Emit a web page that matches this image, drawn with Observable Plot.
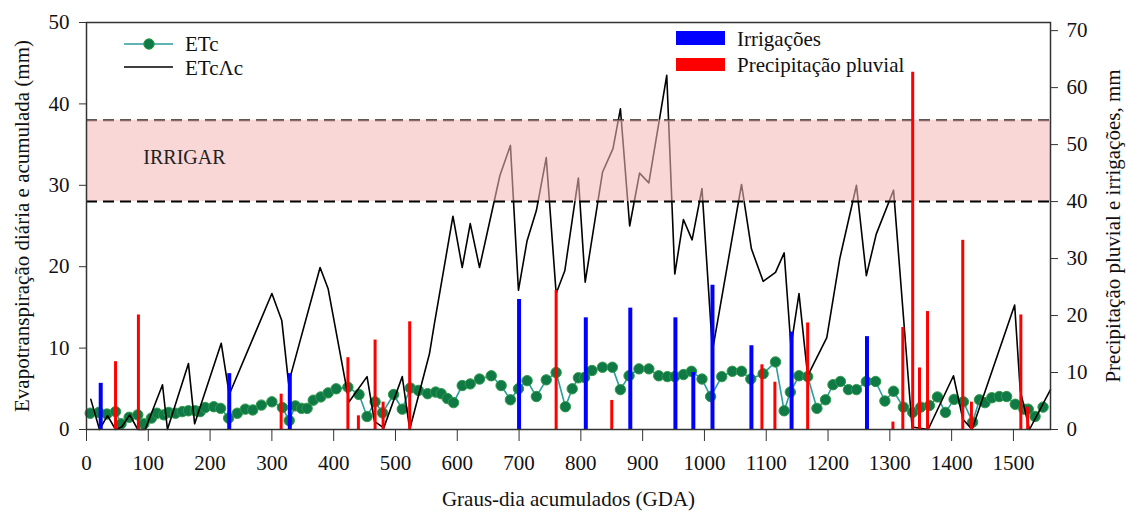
<!DOCTYPE html>
<html>
<head>
<meta charset="utf-8">
<script src="https://cdn.jsdelivr.net/npm/d3@7"></script>
<script src="https://cdn.jsdelivr.net/npm/@observablehq/plot@0.6"></script>
<style>
  html, body { margin: 0; padding: 0; background: #fff; }
  #chart { width: 1126px; height: 516px; }
  #chart svg, #chart svg text { font-family: "Liberation Serif", "Times New Roman", serif !important; }
</style>
</head>
<body>
<div id="chart"></div>
<script>
// ---- Data ----
const etcGDA = [6,20,33,47,56,69,83,93,105,114,125,133,144,155,165,176,184,192,206,217,230,244,257,269,283,300,317,328,338,348,357,367,379,391,404,423,441,454,467,479,497,511,524,537,552,565,574,584,594,608,621,636,655,671,686,699,713,728,744,760,775,786,796,806,818,835,851,864,878,894,910,926,940,952,966,979,996,1010,1028,1045,1060,1075,1095,1115,1129,1139,1153,1167,1182,1196,1208,1220,1233,1246,1262,1277,1292,1306,1322,1337,1350,1364,1377,1390,1404,1419,1434,1445,1454,1465,1477,1489,1503,1517,1524,1535,1548];
const etcVal = [2.0,2.1,1.9,2.2,0.7,1.5,1.8,0.7,1.4,2.0,1.8,2.1,2.0,2.2,2.3,2.3,2.2,2.7,2.8,2.6,1.4,2.0,2.5,2.4,3.0,3.4,2.7,1.1,2.9,2.6,2.6,3.6,4.0,4.5,5.0,5.2,4.3,1.6,3.4,2.05,4.3,2.5,5.1,4.8,4.4,4.6,4.4,3.8,3.3,5.4,5.6,6.2,6.6,5.4,3.65,5.0,6.0,4.05,6.1,7.0,2.8,5.0,6.35,6.4,7.25,7.65,7.65,4.9,6.6,7.45,7.45,6.6,6.5,6.5,6.75,7.15,6.2,4.05,6.5,7.15,7.15,6.2,6.85,8.3,2.3,4.6,6.6,6.5,2.6,3.65,5.5,5.9,4.9,4.9,5.9,5.9,3.5,4.7,2.75,2.1,2.75,2.95,4.0,2.1,3.7,3.4,0.9,3.65,3.3,3.9,4.05,4.05,3.1,2.5,2.5,1.6,2.75];

const etcacGDA = [7,21,34,47,57,70,83,95,123,131,165,175,218,231,300,316,327,378,391,425,454,466,481,511,523,555,563,593,608,621,636,669,686,699,713,728,744,760,774,796,807,835,852,864,879,895,910,939,952,966,980,996,1013,1060,1076,1095,1115,1129,1140,1153,1167,1198,1219,1246,1262,1278,1306,1336,1362,1403,1418,1433,1502,1511,1526,1560];
const etcacVal = [3.7,0,1.7,0,0.3,1.8,0,0,5.5,0,8.1,0.7,10.6,4.3,16.7,13.4,5.7,19.9,17.3,3.4,6.5,1.0,0.2,6.5,0,9.3,13,26.2,19.9,25.3,19.9,31.2,34.9,17.1,23.2,26.9,33.4,16.7,19.5,30.9,18.1,31.6,34.5,39.4,25.0,31.5,30.3,43.5,19.1,25.8,23.3,29.6,9.7,30.1,22.2,18.2,19.3,21.7,10.2,16.7,6.6,11.3,21.0,30.0,18.9,24.0,29.4,0.3,0,6.6,1.3,0,15.3,4.8,0,4.9];

// Irrigações (right axis, mm)
const irrGDA = [23,231,329,700,808,880,953,982,1013,1076,1141,1263];
const irrVal = [8.1,9.8,9.8,22.8,19.6,21.3,19.6,10.0,25.3,14.7,17.1,16.3];

// Precipitação pluvial (right axis, mm)
const precGDA = [47,84,315,423,440,467,480,523,760,850,1093,1114,1167,1305,1321,1337,1348,1361,1418,1432,1512,1523];
const precVal = [11.9,20.1,6.2,12.6,2.4,15.7,4.8,18.9,24.4,5.1,11.35,8.3,18.7,1.3,17.9,62.7,10.8,20.7,33.2,4.8,20.1,3.9];

// Axes / thresholds
const xTicks = [0,100,200,300,400,500,600,700,800,900,1000,1100,1200,1300,1400,1500];
const yTicksLeft = [0,10,20,30,40,50];
const yTicksRight = [0,10,20,30,40,50,60,70];
const irrigarBand = [28, 38];      // left-axis mm
const rightToLeft = 0.7;           // right 70 mm == left 49 mm

const FONT = '"Liberation Serif", "Times New Roman", serif';

const etc = etcGDA.map((g, i) => ({x: g, y: etcVal[i]}));
const etcac = etcacGDA.map((g, i) => ({x: g, y: etcacVal[i]}));
const irr = irrGDA.map((g, i) => ({x: g, v: irrVal[i]}));
const prec = precGDA.map((g, i) => ({x: g, v: precVal[i]}));

const chart = Plot.plot({
  width: 1126,
  height: 516,
  marginLeft: 86,
  marginRight: 76,
  marginTop: 22,
  marginBottom: 87,
  x: {domain: [0, 1560]},
  y: {domain: [0, 50]},
  style: {fontFamily: FONT, fontSize: "21px", background: "#fff", color: "#111"},
  marks: [
    Plot.line(etc, {x: "x", y: "y", stroke: "#2a9d9d", strokeWidth: 1.6}),
    Plot.dot(etc, {x: "x", y: "y", r: 5.2, fill: "#0f7a45", stroke: "#2e9a4a", strokeWidth: 1}),
    Plot.line(etcac, {x: "x", y: "y", stroke: "#000", strokeWidth: 1.6}),
    Plot.ruleY([irrigarBand[1]], {stroke: "#000", strokeWidth: 2, strokeDasharray: "11,6"}),
    Plot.rect([0], {y1: irrigarBand[0], y2: irrigarBand[1], fill: "#f5b8b8", fillOpacity: 0.57}),
    Plot.ruleY([irrigarBand[0]], {stroke: "#000", strokeWidth: 2, strokeDasharray: "11,6"}),
    Plot.ruleX(prec, {x: "x", y1: 0, y2: d => d.v * rightToLeft, stroke: "#ff0000", strokeWidth: 3}),
    Plot.ruleX(irr, {x: "x", y1: 0, y2: d => d.v * rightToLeft, stroke: "#0000ff", strokeWidth: 4}),
    Plot.text(["IRRIGAR"], {x: 92, y: 33.4, text: d => d, textAnchor: "start", fontSize: 20, fill: "#222", fontFamily: FONT}),
    Plot.frame({stroke: "#333", strokeWidth: 1.5}),
    Plot.axisX(xTicks, {tickSize: 12, tickPadding: 14, fontSize: 21, fontFamily: FONT, label: null, stroke: "#333", tickFormat: d => String(d)}),
    Plot.axisY(yTicksLeft, {anchor: "left", tickSize: 7, tickPadding: 10, fontSize: 21, fontFamily: FONT, label: null, stroke: "#333", tickFormat: d => String(d)}),
    Plot.axisY(yTicksRight.map(v => v * rightToLeft), {anchor: "right", tickSize: 7, tickPadding: 9, fontSize: 21, fontFamily: FONT, label: null, stroke: "#333", tickFormat: d => String(Math.round(d / rightToLeft))}),
    Plot.text(["Graus-dia acumulados (GDA)"], {frameAnchor: "bottom", dy: 76, text: d => d, fontSize: 21, fontFamily: FONT, textAnchor: "middle"}),
    Plot.text(["Evapotranspiração diária e acumulada (mm)"], {frameAnchor: "left", dx: -64, rotate: -90, text: d => d, fontSize: 21, fontFamily: FONT, textAnchor: "middle"}),
    Plot.text(["Precipitação pluvial e irrigações, mm"], {frameAnchor: "right", dx: 63, rotate: -90, text: d => d, fontSize: 21, fontFamily: FONT, textAnchor: "middle"})
  ]
});

document.getElementById("chart").appendChild(chart);

// Legend inside the plot area
const svg = d3.select(chart);
const lg = svg.append("g").attr("font-family", FONT).attr("font-size", 21).attr("fill", "#111").attr("text-anchor", "start");
// ETc
lg.append("line").attr("x1", 124).attr("x2", 173).attr("y1", 44).attr("y2", 44).attr("stroke", "#2a9d9d").attr("stroke-width", 1.6);
lg.append("circle").attr("cx", 149).attr("cy", 44).attr("r", 5.2).attr("fill", "#0f7a45").attr("stroke", "#2e9a4a");
lg.append("text").attr("x", 185).attr("y", 44).attr("dy", "0.35em").text("ETc");
// ETcΛc
lg.append("line").attr("x1", 124).attr("x2", 173).attr("y1", 67).attr("y2", 67).attr("stroke", "#000").attr("stroke-width", 1.6);
lg.append("text").attr("x", 185).attr("y", 68).attr("dy", "0.35em").text("ETcΛc");
// Irrigações
lg.append("rect").attr("x", 676).attr("y", 31).attr("width", 49).attr("height", 14).attr("fill", "#0000ff");
lg.append("text").attr("x", 737).attr("y", 39).attr("dy", "0.35em").text("Irrigações");
// Precipitação
lg.append("rect").attr("x", 676).attr("y", 58).attr("width", 49).attr("height", 13).attr("fill", "#ff0000");
lg.append("text").attr("x", 737).attr("y", 65).attr("dy", "0.35em").text("Precipitação pluvial");
</script>
</body>
</html>
